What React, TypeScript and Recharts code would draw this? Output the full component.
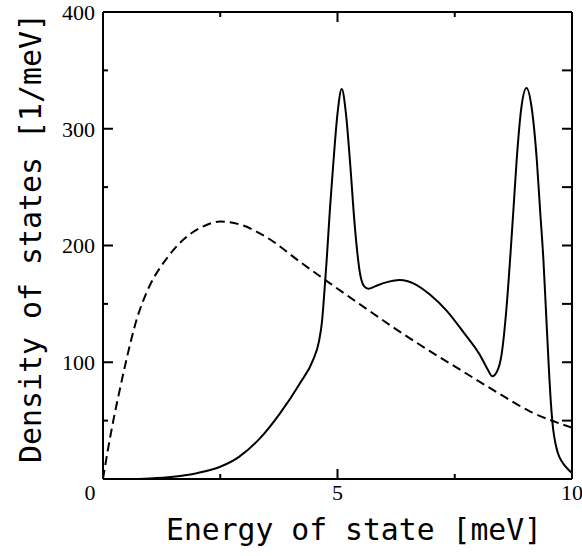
import React from 'react';
import { LineChart, Line, XAxis, YAxis, ReferenceLine } from 'recharts';

// Solid curve: energy [meV] and density of states [1/meV]
const solidEnergy = [0, 0.5, 1.0, 1.5, 2.0, 2.5, 2.9, 3.35, 3.77, 4.2, 4.48, 4.6, 4.67, 4.72, 4.77, 4.84, 4.91, 5.0, 5.09, 5.18, 5.27, 5.37, 5.48, 5.57, 5.66, 5.8, 6.0, 6.33, 6.65, 6.97, 7.33, 7.68, 8.04, 8.2, 8.3, 8.4, 8.5, 8.6, 8.68, 8.75, 8.82, 8.92, 9.03, 9.14, 9.25, 9.32, 9.39, 9.45, 9.5, 9.55, 9.6, 9.65, 9.7, 9.8, 9.9, 10];
const solidDOS = [0, 0, 0.5, 2, 5, 10.5, 19, 35, 56, 82, 102, 117, 135, 160, 188, 232, 270, 313, 334, 313, 270, 216, 176, 165, 163, 165, 168, 170.5, 167, 158, 144, 126, 106, 94, 88, 92, 107, 145, 188, 230, 273, 318, 335, 318, 273, 230, 188, 140, 100, 65, 42, 30, 22, 14, 9, 5];

// Dashed curve
const dashedEnergy = [0, 0.1, 0.22, 0.35, 0.47, 0.6, 0.72, 0.85, 1.0, 1.2, 1.36, 1.71, 2.07, 2.5, 2.92, 3.49, 4.2, 4.84, 5.55, 6.26, 6.97, 7.68, 8.39, 9.1, 10];
const dashedDOS = [0, 24, 50, 75, 97, 119, 137, 152, 166, 180, 189, 205, 215, 220.5, 218, 207, 186, 167.6, 147.6, 128, 109.5, 92, 74.5, 58, 44];

const xTicks = [0, 2.5, 5, 7.5, 10];
const xLabelTicks = [0, 5, 10];
const yTicks = [0, 50, 100, 150, 200, 250, 300, 350, 400];
const yLabelTicks = [100, 200, 300, 400];
const X_MIN = 0;
const X_MAX = 10;
const Y_MIN = 0;
const Y_MAX = 400;

const xTitle = 'Energy of state [meV]';
const yTitle = 'Density of states [1/meV]';

// plot area size in px, used to turn tick lengths in px into data units
const PLOT_W = 469;
const PLOT_H = 467;
const pxX = (px: number) => (px * (X_MAX - X_MIN)) / PLOT_W;
const pxY = (px: number) => (px * (Y_MAX - Y_MIN)) / PLOT_H;

const solidData = solidEnergy.map((e, i) => ({ e, dos: solidDOS[i] }));
const dashedData = dashedEnergy.map((e, i) => ({ e, dos: dashedDOS[i] }));

const SERIF = '"Liberation Serif", "Times New Roman", serif';
const MONO = '"DejaVu Sans Mono", "Liberation Mono", monospace';

const isMajorX = (v: number) => v % 5 === 0;
const isMajorY = (v: number) => v % 100 === 0;

const BottomTick = (p: any) => {
  const x = Number(p.x);
  const y = Number(p.y);
  const v = p.payload.value;
  const len = isMajorX(v) ? 10 : 5;
  return (
    <g>
      <line x1={x} y1={y} x2={x} y2={y - len} stroke="#000" strokeWidth={2} />
      {xLabelTicks.includes(v) && (
        <text x={v === 0 ? x - 13 : x} y={y + 21} textAnchor="middle" fontFamily={SERIF} fontSize={22} fill="#000">
          {v}
        </text>
      )}
    </g>
  );
};

const LeftTick = (p: any) => {
  const x = Number(p.x);
  const y = Number(p.y);
  const v = p.payload.value;
  const len = isMajorY(v) ? 10 : 5;
  return (
    <g>
      <line x1={x} y1={y} x2={x + len} y2={y} stroke="#000" strokeWidth={2} />
      {yLabelTicks.includes(v) && (
        <text x={x - 8} y={y} dy="0.36em" textAnchor="end" fontFamily={SERIF} fontSize={22} fill="#000">
          {v}
        </text>
      )}
    </g>
  );
};

export default function App() {
  return (
    <div style={{ position: 'absolute', left: 0, top: 0, width: 582, height: 556 }}>
      <LineChart width={582} height={556} margin={{ top: 12, right: 10, bottom: 47, left: 43 }}>
        <XAxis
          type="number"
          dataKey="e"
          domain={[X_MIN, X_MAX]}
          ticks={xTicks}
          interval={0}
          height={30}
          tickSize={0}
          tickMargin={0}
          axisLine={{ stroke: '#000', strokeWidth: 2 }}
          stroke="#000"
          tick={<BottomTick />}
        />
        <YAxis
          type="number"
          domain={[Y_MIN, Y_MAX]}
          ticks={yTicks}
          interval={0}
          width={60}
          tickSize={0}
          tickMargin={0}
          axisLine={{ stroke: '#000', strokeWidth: 2 }}
          stroke="#000"
          tick={<LeftTick />}
        />
        <ReferenceLine x={X_MAX} stroke="#000" strokeWidth={2} />
        <ReferenceLine y={Y_MAX} stroke="#000" strokeWidth={2} />
        <ReferenceLine x={X_MIN} stroke="#000" strokeWidth={2} />
        <ReferenceLine y={Y_MIN} stroke="#000" strokeWidth={2} />
        {xTicks
          .filter((t) => t > X_MIN && t < X_MAX)
          .map((t) => (
            <ReferenceLine
              key={`top-${t}`}
              segment={[
                { x: t, y: Y_MAX },
                { x: t, y: Y_MAX - pxY(isMajorX(t) ? 10 : 5) },
              ]}
              stroke="#000"
              strokeWidth={2}
            />
          ))}
        {yTicks
          .filter((t) => t > Y_MIN && t < Y_MAX)
          .map((t) => (
            <ReferenceLine
              key={`right-${t}`}
              segment={[
                { x: X_MAX, y: t },
                { x: X_MAX - pxX(10), y: t },
              ]}
              stroke="#000"
              strokeWidth={2}
            />
          ))}
        <Line data={solidData} dataKey="dos" type="monotone" stroke="#000" strokeWidth={2} dot={false} isAnimationActive={false} />
        <Line
          data={dashedData}
          dataKey="dos"
          type="monotone"
          stroke="#000"
          strokeWidth={2}
          strokeDasharray="9 5"
          dot={false}
          isAnimationActive={false}
        />
      </LineChart>
      <svg width={582} height={556} style={{ position: 'absolute', left: 0, top: 0, pointerEvents: 'none' }}>
        <text x={166} y={540} fontFamily={MONO} fontSize={31} fill="#000" textLength={376} lengthAdjust="spacingAndGlyphs">
          {xTitle}
        </text>
        <text
          x={0}
          y={0}
          transform="translate(41,463) rotate(-90)"
          fontFamily={MONO}
          fontSize={30.5}
          fill="#000"
          textLength={450}
          lengthAdjust="spacingAndGlyphs"
        >
          {yTitle}
        </text>
      </svg>
    </div>
  );
}
